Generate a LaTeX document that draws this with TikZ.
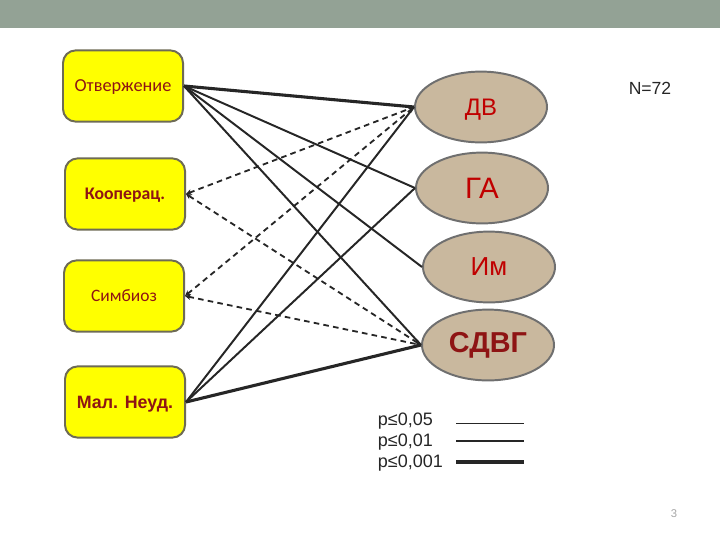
\documentclass[tikz,border=0pt]{standalone}
\usepackage{fontspec}
\setmainfont{Liberation Sans}
\newfontfamily\carlito{Carlito}
\usetikzlibrary{shapes.geometric,arrows.meta}
\definecolor{barsage}{HTML}{93A295}
\definecolor{boxyellow}{HTML}{FFFF00}
\definecolor{boxrim}{HTML}{6E6B55}
\definecolor{tan}{HTML}{C9B89E}
\definecolor{tanrim}{HTML}{6F6F6F}
\definecolor{darkred}{HTML}{8E1414}
\definecolor{brightred}{HTML}{C00000}
\definecolor{ink}{HTML}{262626}

\begin{document}
\begin{tikzpicture}[x=0.025cm, y=-0.025cm,
  factor/.style={rounded corners=9pt, draw=boxrim, line width=1.4pt, fill=boxyellow,
    minimum width=3cm, minimum height=1.78cm, text=darkred},
  measure/.style={ellipse, draw=tanrim, line width=1.4pt, fill=tan,
    minimum width=3.3cm, minimum height=1.77cm, text=brightred},
  link/.style={ink, line width=1.4pt},
  strong/.style={ink, line width=2.2pt},
  weak/.style={ink, line width=1.3pt, dash pattern=on 4pt off 3pt,
    {Stealth[length=4pt,width=4pt]}-{Stealth[length=4pt,width=4pt]}}]
\fill[barsage] (0,0) rectangle (720,28);
\useasboundingbox (0,0) rectangle (720,540);

% factors on the left
\node[factor, text depth=-6pt] (otv) at (123,86) {\carlito\fontsize{13}{15}\selectfont Отвержение};
\node[factor, text depth=-2pt] (koop) at (125,194) {\carlito\bfseries\fontsize{12.6}{15}\selectfont Кооперац.};
\node[factor] (simb) at (124,296) {\carlito\fontsize{12.4}{15}\selectfont Симбиоз};
\node[factor, text depth=-3pt] (neud) at (125,402) {\bfseries\fontsize{12.7}{15}\selectfont Мал. Неуд.};

% measures on the right
\node[measure, text depth=-6pt] (dv) at (481,107) {\fontsize{17}{20}\selectfont ДВ};
\node[measure] (ga) at (482,188) {\fontsize{21}{24}\selectfont ГА};
\node[measure] (im) at (489,267) {\fontsize{18.5}{22}\selectfont Им};
\node[measure, text=darkred] (sdvg) at (488,345) {\bfseries\fontsize{20.5}{24}\selectfont СДВГ};

\node[ink] (n) at (650,88) {\fontsize{12.5}{15}\selectfont N=72};

% links
\draw[strong] (otv.east) -- (dv.west);
\draw[link] (otv.east) -- (ga.west);
\draw[link] (otv.east) -- (im.west);
\draw[link] (otv.east) -- (sdvg.west);
\draw[weak] (koop.east) -- (dv.west);
\draw[weak] (koop.east) -- (sdvg.west);
\draw[weak] (simb.east) -- (dv.west);
\draw[weak] (simb.east) -- (sdvg.west);
\draw[link] (neud.east) -- (dv.west);
\draw[link] (neud.east) -- (ga.west);
\draw[strong] (neud.east) -- (sdvg.west);

% legend
\node[ink, anchor=west] (p1) at (373,421) {\fontsize{12.8}{15}\selectfont p≤0,05};
\node[ink, anchor=west] (p2) at (373,442) {\fontsize{12.8}{15}\selectfont p≤0,01};
\node[ink, anchor=west] (p3) at (373,463) {\fontsize{12.8}{15}\selectfont p≤0,001};
\coordinate (l1) at (456,423);
\coordinate (l2) at (456,441);
\coordinate (l3) at (456,462);
\draw[ink, line width=0.7pt] (l1) -- ++(68,0);
\draw[ink, line width=1.4pt] (l2) -- ++(68,0);
\draw[ink, line width=2.2pt] (l3) -- ++(68,0);

\node[gray!70] (page) at (674,514) {\fontsize{8}{10}\selectfont 3};
\end{tikzpicture}
\end{document}
